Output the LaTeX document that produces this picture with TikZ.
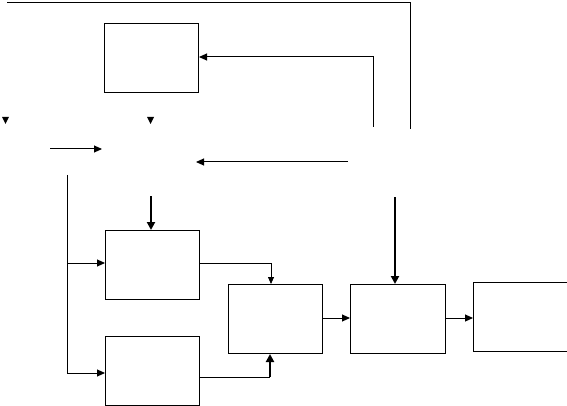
\documentclass[tikz,border=0pt]{standalone}
\usetikzlibrary{arrows.meta}
\begin{document}
\begin{tikzpicture}[x=1pt,y=-1pt,
  blk/.style={draw,line width=1pt,inner sep=0pt,anchor=north west},
  ln/.style={line width=1pt},
  arr/.style={line width=1pt,-{Triangle[length=8pt,width=7pt]}},
  tarr/.style={line width=2pt,-{Triangle[length=8pt,width=8pt]}},
  sarr/.style={line width=0.8pt,-{Triangle[length=7pt,width=6pt]}}]
\useasboundingbox (0,0) rectangle (567,406);
% boxes
\node[blk,minimum width=94pt,minimum height=69pt] (A) at (104,23) {};
\node[blk,minimum width=94pt,minimum height=69pt] (B) at (105,230) {};
\node[blk,minimum width=94pt,minimum height=69pt] (C) at (105,336) {};
\node[blk,minimum width=94pt,minimum height=69pt] (D) at (228,284) {};
\node[blk,minimum width=95pt,minimum height=69pt] (E) at (350,284) {};
\node[blk,minimum width=94pt,minimum height=69pt] (F) at (473,282) {};
% coordinates
\coordinate (t0) at (7,3);
\coordinate (t1) at (410,3);
\coordinate (t2) at (410,129);
\coordinate (r1) at (373,127);
\coordinate (r0) at (373,57);
\coordinate (in1) at (50,149);
\coordinate (in2) at (102,149);
\coordinate (fb0) at (348,162);
\coordinate (fb1) at (196,162);
\coordinate (v0) at (67,175);
\coordinate (v1) at (67,263);
\coordinate (v2) at (67,373);
\coordinate (tb) at (151,196);
\coordinate (te) at (395,197);
\coordinate (bd) at (271,263);
\coordinate (cd) at (270,377);
% lines
\draw[ln] (t0) -- (t1) -- (t2);
\draw[arr] (r1) -- (r0) -- (A.east |- r0);
\draw[arr] (in1) -- (in2);
\draw[arr] (fb0) -- (fb1);
\draw[ln] (v0) -- (v2);
\draw[arr] (v1) -- (B.west |- v1);
\draw[arr] (v2) -- (C.west |- v2);
\draw[tarr] (tb) -- (tb |- B.north);
\draw[tarr] (te) -- (te |- E.north);
\draw[ln] (B.east |- bd) -- (bd);
\draw[sarr] (bd) -- (bd |- D.north);
\draw[ln] (C.east |- cd) -- (cd);
\draw[tarr] (cd) -- (cd |- D.south);
\draw[arr] (D.east |- 0,318) -- (E.west |- 0,318);
\draw[arr] (E.east |- 0,318) -- (F.west |- 0,318);
% lone arrowheads
\fill (2,117) -- (9,117) -- (5.5,124) -- cycle;
\fill (147,117) -- (154,117) -- (150.5,124) -- cycle;
\end{tikzpicture}
\end{document}
